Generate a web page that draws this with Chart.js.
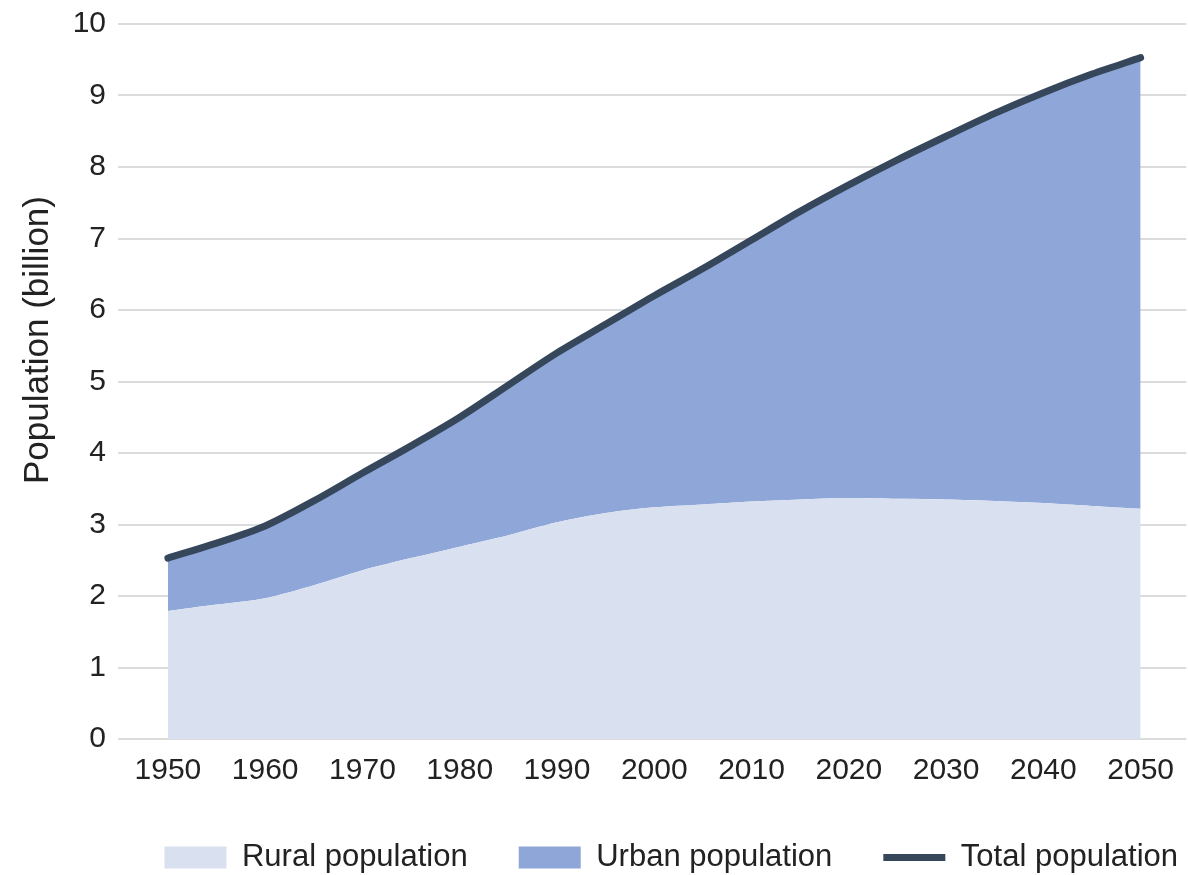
<!DOCTYPE html>
<html>
<head>
<meta charset="utf-8">
<script src="https://cdn.jsdelivr.net/npm/chart.js@4"></script>
<style>
  html, body { margin: 0; padding: 0; background: #fff; }
  #wrap { width: 1188px; height: 875px; }
</style>
</head>
<body>
<div id="wrap"><canvas id="popChart"></canvas></div>
<script>
// values (billion)
const years = [1950, 1955, 1960, 1965, 1970, 1975, 1980, 1985, 1990, 1995, 2000,
               2005, 2010, 2015, 2020, 2025, 2030, 2035, 2040, 2045, 2050];
const ruralPop = [1.79, 1.88, 1.97, 2.15, 2.36, 2.53, 2.69, 2.85, 3.03, 3.16, 3.24,
                  3.28, 3.32, 3.35, 3.37, 3.36, 3.35, 3.33, 3.30, 3.26, 3.22];
const urbanPop = [0.74, 0.86, 1.01, 1.18, 1.36, 1.57, 1.81, 2.10, 2.37, 2.64, 2.96,
                  3.30, 3.66, 4.03, 4.38, 4.74, 5.08, 5.42, 5.74, 6.04, 6.31];
const totalPop = [2.53, 2.74, 2.98, 3.33, 3.72, 4.10, 4.50, 4.95, 5.40, 5.80, 6.20,
                  6.58, 6.98, 7.38, 7.75, 8.10, 8.43, 8.75, 9.04, 9.30, 9.53];
const xTicks = [1950, 1960, 1970, 1980, 1990, 2000, 2010, 2020, 2030, 2040, 2050];
const yTicks = [0, 1, 2, 3, 4, 5, 6, 7, 8, 9, 10];
const yTitle = 'Population (billion)';

const toPoints = arr => arr.map((v, i) => ({ x: years[i], y: v }));

const ruralColor = '#d9e0ef';
const urbanColor = '#8ea6d8';
const totalColor = '#36475c';
const textColor = '#222';
const fontFamily = '"Liberation Sans", Arial, sans-serif';

// y axis title sits a bit above the middle of the axis in the original
const yTitlePlugin = {
    id: 'yTitle',
    afterDraw: chart => {
        const c = chart.ctx;
        c.save();
        c.translate(38, 340);
        c.rotate(-Math.PI / 2);
        c.font = '35px ' + fontFamily;
        c.fillStyle = textColor;
        c.textAlign = 'center';
        c.textBaseline = 'middle';
        c.fillText(yTitle, 0, 0);
        c.restore();
    }
};

const ctx = document.getElementById('popChart').getContext('2d');
new Chart(ctx, {
    type: 'line',
    data: {
        datasets: [
            {
                label: 'Rural population',
                data: toPoints(ruralPop),
                stack: 'areas',
                backgroundColor: ruralColor,
                borderWidth: 0,
                fill: 'origin',
                pointRadius: 0,
                tension: 0.3
            },
            {
                label: 'Urban population',
                data: toPoints(urbanPop),
                stack: 'areas',
                backgroundColor: urbanColor,
                borderWidth: 0,
                fill: '-1',
                pointRadius: 0,
                tension: 0.3
            },
            {
                label: 'Total population',
                data: toPoints(totalPop),
                stack: 'total',
                borderColor: totalColor,
                backgroundColor: totalColor,
                borderWidth: 7,
                borderCapStyle: 'round',
                fill: false,
                pointRadius: 0,
                tension: 0.3,
                order: -1
            }
        ]
    },
    options: {
        responsive: true,
        maintainAspectRatio: false,
        animation: false,
        layout: { padding: { top: 24, right: -41, left: 8, bottom: -8 } },
        plugins: {
            tooltip: { enabled: false },
            legend: {
                position: 'bottom',
                align: 'end',
                labels: {
                    usePointStyle: true,
                    pointStyleWidth: 62,
                    boxHeight: 22,
                    padding: 51,
                    color: textColor,
                    font: { family: fontFamily, size: 31 },
                    generateLabels: chart => chart.data.datasets.map((ds, i) => ({
                        text: ds.label,
                        datasetIndex: i,
                        pointStyle: i === 2 ? 'line' : 'rect',
                        fillStyle: i === 2 ? totalColor : ds.backgroundColor,
                        strokeStyle: i === 2 ? totalColor : ds.backgroundColor,
                        lineWidth: i === 2 ? 7 : 0,
                        fontColor: textColor,
                        hidden: false
                    }))
                }
            }
        },
        scales: {
            x: {
                type: 'linear',
                min: 1944.87,
                max: 2054.7,
                afterBuildTicks: scale => { scale.ticks = xTicks.map(v => ({ value: v })); },
                afterFit: scale => { scale.height = 52; },
                grid: { display: false, drawTicks: false },
                border: { display: false },
                ticks: {
                    padding: 14,
                    color: textColor,
                    font: { family: fontFamily, size: 30 },
                    maxRotation: 0,
                    autoSkip: false,
                    callback: v => String(v)
                }
            },
            y: {
                stacked: true,
                min: 0,
                max: 10,
                afterBuildTicks: scale => { scale.ticks = yTicks.map(v => ({ value: v })); },
                afterFit: scale => {
                    scale.width = 110;
                    scale.paddingTop = 0;
                    scale.paddingBottom = 0;
                },
                grid: { color: '#dcdcdc', lineWidth: 2, drawTicks: false },
                border: { display: false },
                ticks: {
                    padding: 12,
                    color: textColor,
                    font: { family: fontFamily, size: 30 }
                }
            }
        }
    },
    plugins: [yTitlePlugin]
});
</script>
</body>
</html>
